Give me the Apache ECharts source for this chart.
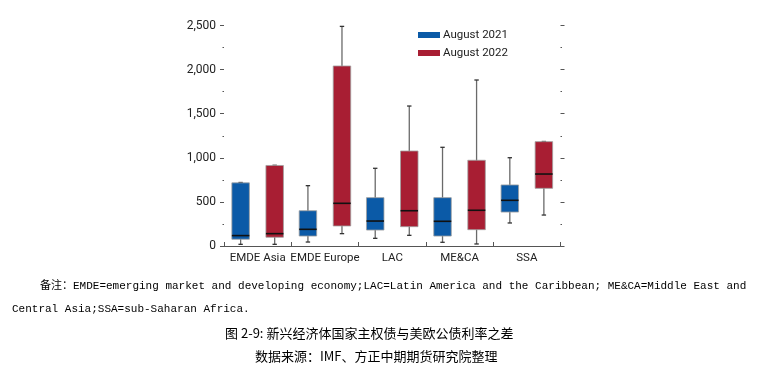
<!DOCTYPE html>
<html><head><meta charset="utf-8">
<script src="https://cdn.jsdelivr.net/npm/echarts@6/dist/echarts.min.js"></script>
<style>html,body{margin:0;padding:0;background:#fff}#c{width:775px;height:367px}</style>
</head><body><div id="c"></div>
<script>
const categories = ['EMDE Asia', 'EMDE Europe', 'LAC', 'ME&CA', 'SSA'];
const seriesNames = ['August 2021', 'August 2022'];
// [min, Q1, median, Q3, max]
const aug2021 = [
  [19, 77, 118, 716, 720],
  [45, 113, 189, 400, 684],
  [87, 181, 283, 548, 881],
  [42, 113, 280, 548, 1119],
  [261, 385, 518, 692, 1001]
];
const aug2022 = [
  [19, 99, 140, 913, 915],
  [140, 227, 484, 2041, 2490],
  [121, 219, 400, 1077, 1587],
  [23, 185, 405, 972, 1882],
  [351, 654, 816, 1183, 1185]
];
const yTicks = [0, 500, 1000, 1500, 2000, 2500];
const noteLine1 = '备注：EMDE=emerging market and developing economy;LAC=Latin America and the Caribbean; ME&CA=Middle East and';
const noteLine2 = 'Central Asia;SSA=sub-Saharan Africa.';
const titleText = '图 2-9: 新兴经济体国家主权债与美欧公债利率之差';
const sourceText = '数据来源：IMF、方正中期期货研究院整理';

const BLUE = '#0b5aa7', RED = '#a81e33';
const FONT = '"Liberation Sans Narrow", Roboto, "Liberation Sans", sans-serif';

function makeRender(offsetFrac, widthFrac) {
  return function (params, api) {
    const ci = api.value(0);
    const band = api.size([1, 0])[0];
    const base = api.coord([ci, 0]);
    const cx = base[0] + offsetFrac * band;
    const w = widthFrac * band;
    const y = i => api.coord([ci, api.value(i)])[1];
    const yMin = y(1), yQ1 = y(2), yMed = y(3), yQ3 = y(4), yMax = y(5);
    const color = api.visual('color');
    const capW = 2.2;
    return {
      type: 'group',
      children: [
        {type: 'line', shape: {x1: cx, y1: yMax, x2: cx, y2: yMin}, style: {stroke: '#6a6a6a', lineWidth: 1.3}},
        {type: 'line', shape: {x1: cx - capW, y1: yMax, x2: cx + capW, y2: yMax}, style: {stroke: '#333', lineWidth: 1.3}},
        {type: 'line', shape: {x1: cx - capW, y1: yMin, x2: cx + capW, y2: yMin}, style: {stroke: '#333', lineWidth: 1.3}},
        {type: 'rect', shape: {x: cx - w / 2, y: yQ3, width: w, height: yQ1 - yQ3}, style: {fill: color, stroke: '#a0a0a0', lineWidth: 0.8}},
        {type: 'line', shape: {x1: cx - w / 2, y1: yMed, x2: cx + w / 2, y2: yMed}, style: {stroke: '#111', lineWidth: 1.6}}
      ]
    };
  };
}

function toData(arr) { return arr.map((d, i) => [i].concat(d)); }

const chart = echarts.init(document.getElementById('c'), null, {renderer: 'canvas'});
const yAxisCommon = {
  type: 'value', min: yTicks[0], max: yTicks[yTicks.length - 1], interval: 500,
  axisLine: {show: false}, splitLine: {show: false},
  axisTick: {show: true, length: 4, lineStyle: {color: '#555', width: 1}},
  minorTick: {show: true, splitNumber: 2, length: 1.5, lineStyle: {color: '#555', width: 1}}
};
chart.setOption({
  animation: false,
  grid: {left: 224, right: 214.5, top: 25.5, bottom: 121, containLabel: false},
  legend: {
    orient: 'vertical', left: 413, top: 24, itemWidth: 22, itemHeight: 6, itemGap: 6,
    icon: 'rect',
    textStyle: {fontFamily: FONT, fontSize: 11.5, color: '#222', padding: [0, 0, 0, -2]},
    data: seriesNames
  },
  xAxis: {
    type: 'category', data: categories,
    axisLine: {show: true, lineStyle: {color: '#555', width: 1}},
    axisTick: {show: true, inside: true, length: 4, lineStyle: {color: '#555'}},
    axisLabel: {fontFamily: FONT, fontSize: 11.5, color: '#222', margin: 6, interval: 0, hideOverlap: false},
    splitLine: {show: false}
  },
  yAxis: [
    Object.assign({}, yAxisCommon, {
      position: 'left',
      axisLabel: {fontFamily: FONT, fontSize: 12, color: '#222', margin: 8,
        formatter: v => v.toLocaleString('en-US')}
    }),
    Object.assign({}, yAxisCommon, {position: 'right', axisLabel: {show: false}})
  ],
  series: [
    {name: seriesNames[0], type: 'custom', renderItem: makeRender(-0.253, 0.26),
      itemStyle: {color: BLUE}, encode: {x: 0, y: [1, 2, 3, 4, 5]}, data: toData(aug2021)},
    {name: seriesNames[1], type: 'custom', renderItem: makeRender(0.253, 0.26),
      itemStyle: {color: RED}, encode: {x: 0, y: [1, 2, 3, 4, 5]}, data: toData(aug2022)}
  ],
  graphic: [
    {type: 'text', left: 40, top: 281, style: {text: noteLine1, font: '11px "Liberation Mono", "Noto Sans CJK SC", monospace', fill: '#000'}},
    {type: 'text', left: 12, top: 304, style: {text: noteLine2, font: '11px "Liberation Mono", "Noto Sans CJK SC", monospace', fill: '#000'}},
    {type: 'text', left: 225, top: 327, style: {text: titleText, font: '13px "Noto Sans CJK SC", sans-serif', fill: '#000'}},
    {type: 'text', left: 255, top: 350, style: {text: sourceText, font: '13px "Noto Sans CJK SC", sans-serif', fill: '#000'}}
  ]
});
</script></body></html>
